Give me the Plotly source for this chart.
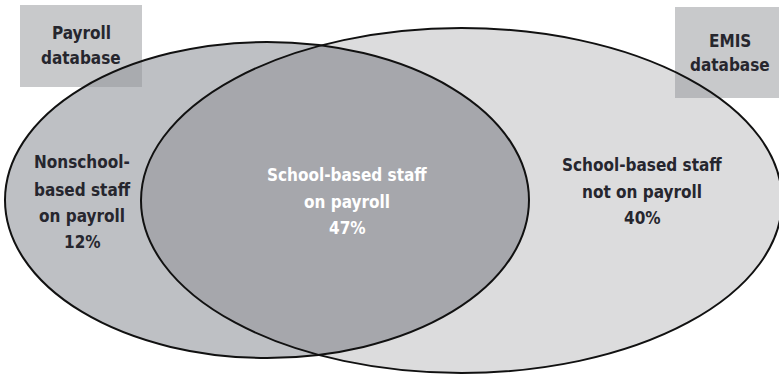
import plotly.graph_objects as go

# ---- data ----
region_labels = [["Nonschool-", "based staff", "on payroll"],
                 ["School-based staff", "on payroll"],
                 ["School-based staff", "not on payroll"]]
region_shares = [12, 47, 40]
set_names = [["Payroll", "database"], ["EMIS", "database"]]

# ---- geometry (pixel-like coordinates) ----
W, H = 779, 374
left_ell = dict(x0=5, x1=529, y0=42, y1=358)
right_ell = dict(x0=141, x1=782, y0=28, y1=373)
boxes = [dict(x0=20, x1=142, y0=5, y1=87), dict(x0=675, x1=785, y0=7, y1=98)]
label_x = [82, 347, 642]
label_y = [[162, 190, 216, 242], [175, 202, 228], [165, 192, 218]]
label_colors = ["#26262e", "#ffffff", "#26262e"]
name_x = [81, 730]
name_y = [[33, 58], [41, 65]]

FONT = "DejaVu Sans Condensed, sans-serif"
FS = 17

fig = go.Figure()
fig.add_trace(go.Scatter(x=[0, W], y=[0, H], mode="markers",
                         marker=dict(opacity=0), hoverinfo="skip", showlegend=False))

shapes = []
shapes.append(dict(type="circle", xref="x", yref="y", **left_ell,
                   fillcolor="rgb(190,192,196)", line=dict(width=0), layer="above"))
shapes.append(dict(type="circle", xref="x", yref="y", **right_ell,
                   fillcolor="rgba(45,45,55,0.17)", line=dict(width=0), layer="above"))
for b in boxes:
    shapes.append(dict(type="rect", xref="x", yref="y", **b,
                       fillcolor="rgba(150,151,156,0.52)", line=dict(width=0), layer="above"))
for e in (left_ell, right_ell):
    shapes.append(dict(type="circle", xref="x", yref="y", **e,
                       fillcolor="rgba(0,0,0,0)", line=dict(color="#111111", width=2), layer="above"))

annotations = []
for lines, share, x, ys, c in zip(region_labels, region_shares, label_x, label_y, label_colors):
    for txt, y in zip(lines + [f"{share}%"], ys):
        annotations.append(dict(x=x, y=y, xref="x", yref="y", showarrow=False,
                                text="<b>" + txt + "</b>", yanchor="middle",
                                font=dict(family=FONT, size=FS, color=c), align="center"))
for lines, x, ys in zip(set_names, name_x, name_y):
    for txt, y in zip(lines, ys):
        annotations.append(dict(x=x, y=y, xref="x", yref="y", showarrow=False,
                                text="<b>" + txt + "</b>", yanchor="middle",
                                font=dict(family=FONT, size=FS, color="#26262e"), align="center"))

fig.update_layout(width=W, height=H, margin=dict(l=0, r=0, t=0, b=0),
                  paper_bgcolor="white", plot_bgcolor="white",
                  xaxis=dict(range=[0, W], visible=False, fixedrange=True),
                  yaxis=dict(range=[H, 0], visible=False, fixedrange=True),
                  shapes=shapes, annotations=annotations, showlegend=False)
fig.write_html("out.html", config={"displayModeBar": False},
               post_script="document.body.style.margin='0';")
